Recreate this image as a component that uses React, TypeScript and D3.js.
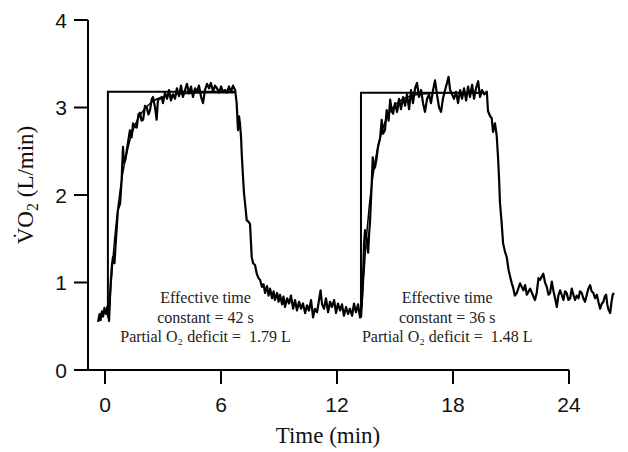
import React from "react";
import * as d3 from "d3";

const xTicks = [0, 6, 12, 18, 24];
const yTicks = [0, 1, 2, 3, 4];

// Measured breath-by-breath VO2 [time (min), L/min]
const vo2Data: [number, number][] = [
  [-0.36,0.55],[-0.28,0.64],[-0.23,0.57],[-0.16,0.67],[-0.10,0.61],[-0.03,0.71],[0.05,0.64],[0.13,0.73],[0.21,0.56],
  [0.28,0.95],[0.35,1.18],[0.41,1.29],[0.49,1.22],[0.57,1.5],[0.67,1.83],[0.78,1.9],[0.86,2.17],[0.93,2.55],[0.98,2.37],[1.05,2.4],[1.12,2.5],[1.19,2.6],[1.29,2.74],[1.38,2.66],[1.45,2.82],[1.55,2.78],[1.64,2.77],[1.73,2.92],[1.81,2.94],[1.89,2.85],[1.97,2.86],[2.07,3.02],[2.16,3.0],[2.25,2.92],[2.33,2.97],[2.42,3.1],[2.48,3.12],[2.59,3.0],[2.67,2.86],[2.74,3.09],[2.85,3.1],[2.93,3.12],[3.0,3.05],[3.1,3.17],[3.21,3.1],[3.31,3.2],[3.41,3.08],[3.52,3.15],[3.62,3.1],[3.72,3.22],[3.83,3.13],[3.93,3.25],[4.03,3.12],[4.14,3.2],[4.24,3.27],[4.35,3.16],[4.45,3.24],[4.55,3.12],[4.66,3.22],
  [4.76,3.18],[4.86,3.25],[4.97,3.12],[5.07,3.05],[5.17,3.2],[5.28,3.27],[5.38,3.22],[5.48,3.28],[5.59,3.18],[5.69,3.25],[5.79,3.22],[5.9,3.17],[6.0,3.24],[6.1,3.18],[6.21,3.2],[6.31,3.17],[6.41,3.24],[6.52,3.18],[6.62,3.25],[6.73,3.2],
  [6.81,3.05],[6.88,2.74],[6.93,2.9],[6.98,2.82],[7.04,2.65],[7.07,2.48],[7.14,2.2],[7.19,2.02],[7.27,1.85],[7.33,1.71],[7.4,1.70],[7.5,1.67],[7.59,1.29],[7.66,1.22],[7.76,1.2],[7.85,1.1],[7.94,1.05],[8.02,1.03],[8.12,0.95],[8.2,0.98],[8.28,0.88],[8.38,0.96],[8.46,0.85],[8.54,0.93],[8.64,0.82],[8.72,0.9],[8.79,0.8],[8.9,0.88],[8.98,0.78],[9.05,0.86],[9.16,0.75],[9.23,0.84],[9.31,0.72],[9.42,0.82],[9.52,0.76],[9.62,0.85],[9.73,0.7],[9.83,0.8],[9.93,0.68],[10.04,0.78],
  [10.14,0.7],[10.24,0.76],[10.35,0.65],[10.45,0.74],[10.55,0.68],[10.66,0.8],[10.76,0.6],[10.86,0.7],[10.97,0.66],[11.07,0.8],[11.15,0.91],[11.23,0.75],[11.33,0.7],[11.43,0.82],[11.54,0.66],[11.64,0.78],[11.74,0.72],[11.85,0.8],[11.95,0.65],[12.05,0.76],[12.16,0.68],[12.26,0.75],[12.36,0.62],[12.47,0.72],[12.57,0.64],[12.67,0.7],[12.78,0.62],[12.88,0.76],[12.98,0.66],[13.09,0.75],[13.19,0.6],
  [13.28,0.76],[13.35,1.1],[13.4,1.45],[13.45,1.6],[13.53,1.5],[13.61,1.34],[13.66,1.55],[13.71,1.71],[13.79,2.1],[13.85,2.43],[13.92,2.3],[13.97,2.32],[14.05,2.42],[14.12,2.55],[14.23,2.65],[14.31,2.86],[14.38,2.7],[14.48,2.74],[14.57,2.97],[14.67,2.85],[14.75,3.09],[14.83,2.96],[14.9,2.93],[15.0,3.05],[15.11,2.95],[15.21,3.1],[15.31,2.98],[15.42,3.12],[15.52,3.02],
  [15.62,3.15],[15.73,2.98],[15.83,3.2],[15.93,3.05],[16.04,3.22],[16.14,3.28],[16.24,3.12],[16.35,3.2],[16.45,3.05],[16.55,2.95],[16.66,3.1],[16.76,3.15],[16.86,3.05],[16.97,3.2],[17.07,3.31],[17.17,3.15],[17.28,3.0],[17.38,2.95],[17.48,3.1],[17.59,3.2],[17.69,3.28],[17.77,3.35],[17.85,3.2],[17.95,3.15],[18.05,3.1],[18.16,3.18],[18.26,3.05],[18.37,3.2],[18.47,3.1],[18.57,3.22],[18.68,3.08],[18.78,3.24],[18.88,3.12],[18.99,3.26],[19.09,3.1],[19.19,3.22],[19.3,3.3],[19.4,3.12],[19.5,3.2],[19.61,3.15],[19.75,3.18],
  [19.81,2.96],[19.92,2.9],[20.0,2.88],[20.07,2.72],[20.17,2.82],[20.26,2.68],[20.33,2.43],[20.38,2.2],[20.43,1.91],[20.51,1.7],[20.59,1.45],[20.69,1.35],[20.78,1.29],[20.87,1.15],[20.95,1.07],[21.04,0.99],[21.1,0.95],[21.2,0.85],
  [21.3,0.88],[21.47,0.99],[21.64,0.91],[21.73,0.97],[21.82,0.86],[21.99,0.93],[22.16,0.84],[22.24,0.8],[22.33,0.88],[22.42,1.05],[22.5,1.03],[22.67,1.1],[22.76,1.0],[22.85,0.95],[22.94,0.86],[23.02,0.88],[23.11,1.01],[23.2,0.9],[23.28,0.82],[23.37,0.72],[23.45,0.85],[23.54,0.91],[23.62,0.86],[23.71,0.8],[23.8,0.9],[23.88,0.88],[23.97,0.8],[24.06,0.82],[24.14,0.93],[24.23,0.86],[24.31,0.8],[24.4,0.85],[24.49,0.82],[24.57,0.9],[24.66,0.88],[24.74,0.82],[24.83,0.78],[24.92,0.86],[25.0,0.93],[25.09,0.97],[25.17,0.9],[25.26,0.88],[25.35,0.82],[25.44,0.86],[25.52,0.78],[25.61,0.7],[25.7,0.76],[25.78,0.78],[25.85,0.84],[25.92,0.86],[25.98,0.75],[26.04,0.69],[26.13,0.65],[26.2,0.78],[26.26,0.86],[26.33,0.88],
];

// Fitted exponential responses
const fit1: [number, number][] = [
  [0.2,0.6],[0.3,0.94],[0.4,1.24],[0.5,1.5],[0.6,1.72],[0.7,1.91],[0.8,2.08],[1.0,2.35],[1.2,2.55],[1.4,2.71],[1.7,2.87],[2.0,2.97],[2.3,3.04],[2.7,3.1],[3.2,3.13],[3.7,3.15],[4.2,3.16],[5.2,3.17],[6.7,3.17],
];
const fit2: [number, number][] = [
  [13.26,0.6],[13.36,0.99],[13.46,1.33],[13.56,1.61],[13.66,1.85],[13.76,2.05],[13.86,2.22],[14.06,2.49],[14.26,2.68],[14.46,2.82],[14.76,2.96],[15.06,3.04],[15.36,3.09],[15.76,3.13],[16.26,3.15],[16.76,3.16],[17.26,3.17],[19.76,3.17],
];

// Square-wave (instantaneous) response
const square1: [number, number][] = [[0.15,0.6],[0.15,3.18],[6.72,3.18]];
const square2: [number, number][] = [[13.24,0.6],[13.24,3.17],[19.78,3.17]];

const annotations = [
  { t: 5.2, lines: ["Effective time", "constant = 42 s", "Partial O\u2082 deficit =  1.79 L"] },
  { t: 17.7, lines: ["Effective time", "constant = 36 s", "Partial O\u2082 deficit =  1.48 L"] },
];

export default function App() {
  const width = 628;
  const height = 452;
  const x = d3.scaleLinear().domain([0, 24]).range([105, 569]);
  const y = d3.scaleLinear().domain([0, 4]).range([370, 20]);
  const axisX0 = 88;
  const xStartT = x.invert(axisX0);

  const line = d3.line<[number, number]>().x((d) => x(d[0])).y((d) => y(d[1]));
  const smooth = d3
    .line<[number, number]>()
    .x((d) => x(d[0]))
    .y((d) => y(d[1]))
    .curve(d3.curveMonotoneX);

  const serif = "'Liberation Serif', 'Times New Roman', serif";
  const sans = "'Liberation Sans', Arial, sans-serif";

  return (
    <svg
      width={width}
      height={height}
      style={{ position: "absolute", left: 0, top: 0, background: "#fff" }}
    >
      {/* axes */}
      <line x1={axisX0} x2={axisX0} y1={y(4)} y2={y(0)} stroke="#000" strokeWidth={2} />
      <line x1={axisX0} x2={x(24)} y1={y(0)} y2={y(0)} stroke="#000" strokeWidth={2} />
      {yTicks.map((v) => (
        <g key={"y" + v}>
          <line x1={axisX0 - 14} x2={axisX0} y1={y(v)} y2={y(v)} stroke="#000" strokeWidth={2} />
          <text
            x={67}
            y={y(v)}
            dy="0.36em"
            textAnchor="end"
            fontFamily={sans}
            fontSize={21}
            fill="#111"
          >
            {v}
          </text>
        </g>
      ))}
      {xTicks.map((v) => (
        <g key={"x" + v}>
          <line x1={x(v)} x2={x(v)} y1={y(0)} y2={y(0) + 14} stroke="#000" strokeWidth={2} />
          <text
            x={x(v)}
            y={412}
            textAnchor="middle"
            fontFamily={sans}
            fontSize={21}
            fill="#111"
          >
            {v}
          </text>
        </g>
      ))}
      <text x={328} y={443} textAnchor="middle" fontFamily={serif} fontSize={23} fill="#111">
        Time (min)
      </text>
      <text
        transform="translate(33,185) rotate(-90)"
        textAnchor="middle"
        fontFamily={serif}
        fontSize={23}
        fill="#111"
      >
        <tspan>{"V\u0307O"}</tspan>
        <tspan fontSize={16} dy={5}>2</tspan>
        <tspan dy={-5}>{" (L/min)"}</tspan>
      </text>

      {/* square waves */}
      <path d={line(square1) || ""} fill="none" stroke="#000" strokeWidth={2} />
      <path d={line(square2) || ""} fill="none" stroke="#000" strokeWidth={2} />

      {/* fits */}
      <path d={smooth(fit1) || ""} fill="none" stroke="#000" strokeWidth={1.5} />
      <path d={smooth(fit2) || ""} fill="none" stroke="#000" strokeWidth={1.5} />

      {/* data */}
      <path
        d={line(vo2Data) || ""}
        fill="none"
        stroke="#000"
        strokeWidth={2.2}
        strokeLinejoin="round"
      />

      {/* annotations */}
      {annotations.map((a, i) => (
        <text
          key={i}
          x={x(a.t)}
          textAnchor="middle"
          fontFamily={serif}
          fontSize={16}
          fill="#222"
          style={{ whiteSpace: "pre" }}
        >
          {a.lines.map((l, j) => (
            <tspan key={j} x={x(a.t)} y={303 + j * 19.5}>
              {l}
            </tspan>
          ))}
        </text>
      ))}
      <desc>{String(xStartT)}</desc>
    </svg>
  );
}
